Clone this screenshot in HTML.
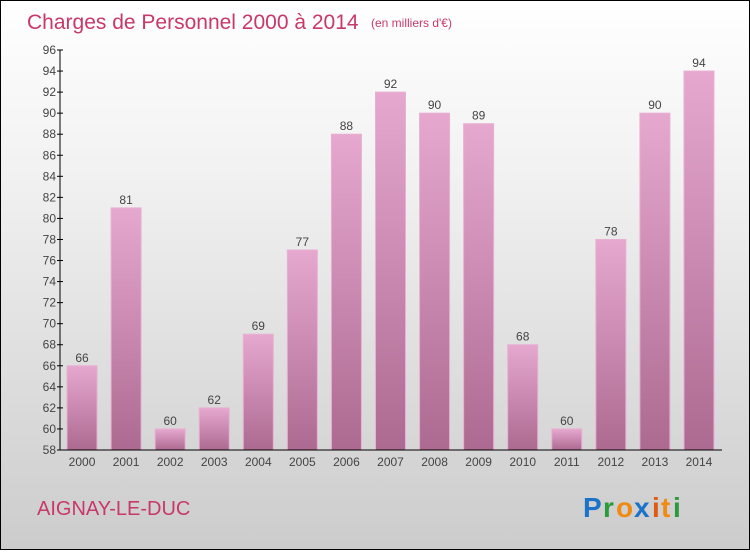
<!DOCTYPE html>
<html><head><meta charset="utf-8"><style>
body{margin:0;width:750px;height:550px;overflow:hidden;font-family:"Liberation Sans",sans-serif}
#wrap{position:absolute;left:0;top:0;width:748px;height:548px;border:1px solid #000;background:linear-gradient(#ffffff,#f2f2f2 30%,#cccccc)}
</style></head><body>
<div id="wrap">
<svg width="748" height="548">
<defs>
<linearGradient id="bg" x1="0" y1="0" x2="0" y2="1"><stop offset="0" stop-color="#e6a8cf"/><stop offset="1" stop-color="#ad6a91"/></linearGradient>
</defs>
<text x="26" y="28" font-size="21" fill="#c8386a">Charges de Personnel 2000 à 2014</text>
<text x="370" y="26" font-size="12" fill="#c8386a">(en milliers d'€)</text>
<text x="36" y="514" font-size="20" fill="#c8386a">AIGNAY-LE-DUC</text>
<g font-size="28" font-weight="bold" font-family="Liberation Sans, sans-serif">
<text x="582" y="516" fill="#1a73c8">P</text><text x="602" y="516" fill="#2a9a3a">r</text><text x="615" y="516" fill="#f08a10">o</text><text x="633" y="516" fill="#1a73c8">x</text><text x="651" y="516" fill="#e05a10">i</text><text x="660" y="516" fill="#f08a10">t</text><text x="672" y="516" fill="#2a9a3a">i</text>
</g>
<g id="plot"></g>
</svg></div>
<script>
const years=["2000","2001","2002","2003","2004","2005","2006","2007","2008","2009","2010","2011","2012","2013","2014"];
const values=[66,81,60,62,69,77,88,92,90,89,68,60,78,90,94];
const yTicks=[58,60,62,64,66,68,70,72,74,76,78,80,82,84,86,88,90,92,94,96];
const NS="http://www.w3.org/2000/svg";
const g=document.getElementById('plot');
const yMin=58,yMax=96,yTop=49,yBot=449,x0=59,x1=720;
const y=v=>yBot-(v-yMin)/(yMax-yMin)*(yBot-yTop);
const step=(x1-x0)/years.length;
const xc=i=>x0+step*(i+0.5);
function mk(t,a){const e=document.createElementNS(NS,t);for(const k in a)e.setAttribute(k,a[k]);g.appendChild(e);return e;}
values.forEach((v,i)=>{
 const r=mk('rect',{x:xc(i)-15,y:y(v),width:30,height:yBot-y(v),fill:'url(#bg)',stroke:'#e8b0d2','stroke-width':1});
 
 
 const t=mk('text',{x:xc(i),y:y(v)-4,'text-anchor':'middle','font-size':12,fill:'#444'});
 t.textContent=v;
 
 
 const xl=mk('text',{x:xc(i),y:yBot+16,'text-anchor':'middle','font-size':12,fill:'#444'});
 xl.textContent=years[i];
 
 
});
yTicks.forEach(v=>{
 mk('line',{x1:x0-3,x2:x0+3,y1:y(v),y2:y(v),stroke:'#000'});
 const t=mk('text',{x:x0-4,y:y(v)+4,'text-anchor':'end','font-size':12,fill:'#444'});
 t.textContent=v;
 
 
});
const ya=mk('line',{x1:x0,x2:x0,y1:yTop,y2:yBot,stroke:'#000'});


const xa=mk('line',{x1:x0,x2:x1+1,y1:yBot,y2:yBot,stroke:'#000'});


</script>
</body></html>
